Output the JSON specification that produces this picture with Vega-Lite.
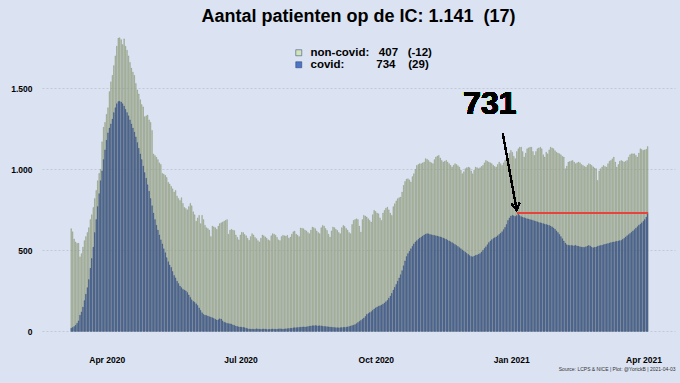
{
"$schema":"https://vega.github.io/schema/vega-lite/v6.json",
"width":633,"height":323,
"autosize":{"type":"none"},
"padding":{"left":42,"top":23,"right":5,"bottom":37},
"background":"#dbe3f2",
"config":{"view":{"stroke":null},"font":"Liberation Sans"},
"title":{"text":"Aantal patienten op de IC: 1.141\u00a0\u00a0(17)","font":"Liberation Sans","fontSize":18,"fontWeight":"bold","color":"black","anchor":"middle","offset":0,"dy":3},
"data":{"values":[
{"d":"2020-03-07","t":634,"c":20},{"d":"2020-03-08","t":615,"c":24},{"d":"2020-03-09","t":570,"c":30},{"d":"2020-03-10","t":552,"c":38},{"d":"2020-03-11","t":543,"c":50},{"d":"2020-03-12","t":545,"c":65},{"d":"2020-03-13","t":460,"c":100},{"d":"2020-03-14","t":480,"c":120},{"d":"2020-03-15","t":520,"c":150},{"d":"2020-03-16","t":560,"c":190},{"d":"2020-03-17","t":585,"c":230},{"d":"2020-03-18","t":610,"c":270},{"d":"2020-03-19","t":640,"c":320},{"d":"2020-03-20","t":690,"c":390},{"d":"2020-03-21","t":720,"c":450},{"d":"2020-03-22","t":765,"c":520},{"d":"2020-03-23","t":820,"c":610},{"d":"2020-03-24","t":870,"c":690},{"d":"2020-03-25","t":930,"c":770},{"d":"2020-03-26","t":975,"c":850},{"d":"2020-03-27","t":1000,"c":930},{"d":"2020-03-28","t":1170,"c":990},{"d":"2020-03-29","t":1260,"c":1060},{"d":"2020-03-30","t":1290,"c":1120},{"d":"2020-03-31","t":1340,"c":1180},
{"d":"2020-04-01","t":1380,"c":1225},{"d":"2020-04-02","t":1480,"c":1255},{"d":"2020-04-03","t":1540,"c":1280},{"d":"2020-04-04","t":1580,"c":1310},{"d":"2020-04-05","t":1640,"c":1350},{"d":"2020-04-06","t":1700,"c":1380},{"d":"2020-04-07","t":1760,"c":1405},{"d":"2020-04-08","t":1810,"c":1418},{"d":"2020-04-09","t":1812,"c":1420},{"d":"2020-04-10","t":1800,"c":1415},{"d":"2020-04-11","t":1770,"c":1405},{"d":"2020-04-12","t":1805,"c":1390},{"d":"2020-04-13","t":1760,"c":1370},{"d":"2020-04-14","t":1735,"c":1350},{"d":"2020-04-15","t":1700,"c":1330},{"d":"2020-04-16","t":1660,"c":1305},{"d":"2020-04-17","t":1625,"c":1280},{"d":"2020-04-18","t":1600,"c":1255},{"d":"2020-04-19","t":1580,"c":1230},{"d":"2020-04-20","t":1530,"c":1200},{"d":"2020-04-21","t":1490,"c":1165},{"d":"2020-04-22","t":1465,"c":1130},{"d":"2020-04-23","t":1430,"c":1095},{"d":"2020-04-24","t":1400,"c":1060},{"d":"2020-04-25","t":1385,"c":1020},{"d":"2020-04-26","t":1325,"c":980},{"d":"2020-04-27","t":1330,"c":945},{"d":"2020-04-28","t":1335,"c":905},{"d":"2020-04-29","t":1305,"c":865},{"d":"2020-04-30","t":1290,"c":820},
{"d":"2020-05-01","t":1240,"c":775},{"d":"2020-05-02","t":1095,"c":730},{"d":"2020-05-03","t":1085,"c":690},{"d":"2020-05-04","t":1075,"c":655},{"d":"2020-05-05","t":1060,"c":625},{"d":"2020-05-06","t":1040,"c":595},{"d":"2020-05-07","t":1030,"c":565},{"d":"2020-05-08","t":975,"c":540},{"d":"2020-05-09","t":970,"c":510},{"d":"2020-05-10","t":963,"c":485},{"d":"2020-05-11","t":950,"c":455},{"d":"2020-05-12","t":920,"c":430},{"d":"2020-05-13","t":910,"c":410},{"d":"2020-05-14","t":895,"c":395},{"d":"2020-05-15","t":880,"c":370},{"d":"2020-05-16","t":860,"c":345},{"d":"2020-05-17","t":870,"c":330},{"d":"2020-05-18","t":835,"c":310},{"d":"2020-05-19","t":820,"c":295},{"d":"2020-05-20","t":808,"c":280},{"d":"2020-05-21","t":825,"c":270},{"d":"2020-05-22","t":790,"c":260},{"d":"2020-05-23","t":765,"c":255},{"d":"2020-05-24","t":758,"c":250},{"d":"2020-05-25","t":750,"c":240},{"d":"2020-05-26","t":770,"c":225},{"d":"2020-05-27","t":790,"c":210},{"d":"2020-05-28","t":775,"c":195},{"d":"2020-05-29","t":738,"c":185},{"d":"2020-05-30","t":720,"c":180},{"d":"2020-05-31","t":680,"c":170},
{"d":"2020-06-01","t":700,"c":160},{"d":"2020-06-02","t":716,"c":145},{"d":"2020-06-03","t":665,"c":130},{"d":"2020-06-04","t":716,"c":115},{"d":"2020-06-05","t":690,"c":105},{"d":"2020-06-06","t":655,"c":100},{"d":"2020-06-07","t":640,"c":98},{"d":"2020-06-08","t":634,"c":95},{"d":"2020-06-09","t":625,"c":90},{"d":"2020-06-10","t":585,"c":88},{"d":"2020-06-11","t":650,"c":84},{"d":"2020-06-12","t":645,"c":80},{"d":"2020-06-13","t":640,"c":75},{"d":"2020-06-14","t":630,"c":70},{"d":"2020-06-15","t":650,"c":72},{"d":"2020-06-16","t":665,"c":78},{"d":"2020-06-17","t":670,"c":76},{"d":"2020-06-18","t":675,"c":65},{"d":"2020-06-19","t":680,"c":57},{"d":"2020-06-20","t":685,"c":54},{"d":"2020-06-21","t":690,"c":50},{"d":"2020-06-22","t":600,"c":48},{"d":"2020-06-23","t":625,"c":47},{"d":"2020-06-24","t":630,"c":45},{"d":"2020-06-25","t":625,"c":40},{"d":"2020-06-26","t":622,"c":37},{"d":"2020-06-27","t":595,"c":33},{"d":"2020-06-28","t":580,"c":30},{"d":"2020-06-29","t":565,"c":28},{"d":"2020-06-30","t":595,"c":27},
{"d":"2020-07-01","t":612,"c":26},{"d":"2020-07-02","t":610,"c":25},{"d":"2020-07-03","t":598,"c":23},{"d":"2020-07-04","t":590,"c":20},{"d":"2020-07-05","t":575,"c":17},{"d":"2020-07-06","t":562,"c":15},{"d":"2020-07-07","t":585,"c":14},{"d":"2020-07-08","t":603,"c":15},{"d":"2020-07-09","t":595,"c":13},{"d":"2020-07-10","t":580,"c":14},{"d":"2020-07-11","t":572,"c":16},{"d":"2020-07-12","t":560,"c":15},{"d":"2020-07-13","t":552,"c":14},{"d":"2020-07-14","t":575,"c":13},{"d":"2020-07-15","t":595,"c":14},{"d":"2020-07-16","t":590,"c":15},{"d":"2020-07-17","t":583,"c":14},{"d":"2020-07-18","t":575,"c":13},{"d":"2020-07-19","t":565,"c":12},{"d":"2020-07-20","t":560,"c":13},{"d":"2020-07-21","t":590,"c":14},{"d":"2020-07-22","t":603,"c":15},{"d":"2020-07-23","t":600,"c":14},{"d":"2020-07-24","t":593,"c":13},{"d":"2020-07-25","t":580,"c":14},{"d":"2020-07-26","t":565,"c":15},{"d":"2020-07-27","t":560,"c":16},{"d":"2020-07-28","t":585,"c":15},{"d":"2020-07-29","t":593,"c":14},{"d":"2020-07-30","t":590,"c":15},{"d":"2020-07-31","t":588,"c":16},
{"d":"2020-08-01","t":593,"c":17},{"d":"2020-08-02","t":575,"c":18},{"d":"2020-08-03","t":582,"c":19},{"d":"2020-08-04","t":600,"c":20},{"d":"2020-08-05","t":615,"c":22},{"d":"2020-08-06","t":619,"c":23},{"d":"2020-08-07","t":600,"c":23},{"d":"2020-08-08","t":593,"c":24},{"d":"2020-08-09","t":585,"c":25},{"d":"2020-08-10","t":638,"c":26},{"d":"2020-08-11","t":636,"c":27},{"d":"2020-08-12","t":634,"c":28},{"d":"2020-08-13","t":625,"c":27},{"d":"2020-08-14","t":620,"c":28},{"d":"2020-08-15","t":610,"c":30},{"d":"2020-08-16","t":603,"c":32},{"d":"2020-08-17","t":625,"c":33},{"d":"2020-08-18","t":644,"c":35},{"d":"2020-08-19","t":640,"c":35},{"d":"2020-08-20","t":634,"c":36},{"d":"2020-08-21","t":620,"c":35},{"d":"2020-08-22","t":610,"c":34},{"d":"2020-08-23","t":603,"c":35},{"d":"2020-08-24","t":640,"c":34},{"d":"2020-08-25","t":654,"c":32},{"d":"2020-08-26","t":650,"c":31},{"d":"2020-08-27","t":635,"c":30},{"d":"2020-08-28","t":623,"c":29},{"d":"2020-08-29","t":600,"c":28},{"d":"2020-08-30","t":582,"c":27},{"d":"2020-08-31","t":620,"c":26},
{"d":"2020-09-01","t":644,"c":25},{"d":"2020-09-02","t":640,"c":24},{"d":"2020-09-03","t":630,"c":23},{"d":"2020-09-04","t":623,"c":23},{"d":"2020-09-05","t":610,"c":22},{"d":"2020-09-06","t":603,"c":23},{"d":"2020-09-07","t":640,"c":24},{"d":"2020-09-08","t":654,"c":25},{"d":"2020-09-09","t":648,"c":25},{"d":"2020-09-10","t":635,"c":26},{"d":"2020-09-11","t":625,"c":28},{"d":"2020-09-12","t":610,"c":30},{"d":"2020-09-13","t":603,"c":33},{"d":"2020-09-14","t":660,"c":36},{"d":"2020-09-15","t":685,"c":38},{"d":"2020-09-16","t":690,"c":42},{"d":"2020-09-17","t":695,"c":48},{"d":"2020-09-18","t":690,"c":55},{"d":"2020-09-19","t":650,"c":62},{"d":"2020-09-20","t":613,"c":68},{"d":"2020-09-21","t":690,"c":75},{"d":"2020-09-22","t":716,"c":82},{"d":"2020-09-23","t":712,"c":92},{"d":"2020-09-24","t":706,"c":105},{"d":"2020-09-25","t":695,"c":110},{"d":"2020-09-26","t":685,"c":116},{"d":"2020-09-27","t":675,"c":122},{"d":"2020-09-28","t":720,"c":130},{"d":"2020-09-29","t":747,"c":138},{"d":"2020-09-30","t":740,"c":145},
{"d":"2020-10-01","t":730,"c":150},{"d":"2020-10-02","t":726,"c":155},{"d":"2020-10-03","t":700,"c":158},{"d":"2020-10-04","t":685,"c":163},{"d":"2020-10-05","t":730,"c":168},{"d":"2020-10-06","t":747,"c":175},{"d":"2020-10-07","t":760,"c":183},{"d":"2020-10-08","t":767,"c":192},{"d":"2020-10-09","t":750,"c":205},{"d":"2020-10-10","t":730,"c":218},{"d":"2020-10-11","t":716,"c":235},{"d":"2020-10-12","t":770,"c":255},{"d":"2020-10-13","t":788,"c":272},{"d":"2020-10-14","t":805,"c":290},{"d":"2020-10-15","t":819,"c":310},{"d":"2020-10-16","t":825,"c":330},{"d":"2020-10-17","t":829,"c":350},{"d":"2020-10-18","t":860,"c":375},{"d":"2020-10-19","t":901,"c":405},{"d":"2020-10-20","t":925,"c":435},{"d":"2020-10-21","t":940,"c":462},{"d":"2020-10-22","t":942,"c":480},{"d":"2020-10-23","t":935,"c":495},{"d":"2020-10-24","t":922,"c":510},{"d":"2020-10-25","t":955,"c":525},{"d":"2020-10-26","t":973,"c":540},{"d":"2020-10-27","t":1000,"c":552},{"d":"2020-10-28","t":1024,"c":560},{"d":"2020-10-29","t":1030,"c":568},{"d":"2020-10-30","t":1035,"c":576},{"d":"2020-10-31","t":1035,"c":582},
{"d":"2020-11-01","t":1040,"c":588},{"d":"2020-11-02","t":1045,"c":595},{"d":"2020-11-03","t":1066,"c":600},{"d":"2020-11-04","t":1062,"c":603},{"d":"2020-11-05","t":1055,"c":602},{"d":"2020-11-06","t":1045,"c":598},{"d":"2020-11-07","t":1040,"c":596},{"d":"2020-11-08","t":1035,"c":594},{"d":"2020-11-09","t":1060,"c":592},{"d":"2020-11-10","t":1076,"c":590},{"d":"2020-11-11","t":1082,"c":588},{"d":"2020-11-12","t":1086,"c":585},{"d":"2020-11-13","t":1070,"c":583},{"d":"2020-11-14","t":1055,"c":580},{"d":"2020-11-15","t":1045,"c":576},{"d":"2020-11-16","t":1050,"c":572},{"d":"2020-11-17","t":1055,"c":568},{"d":"2020-11-18","t":1045,"c":563},{"d":"2020-11-19","t":1035,"c":558},{"d":"2020-11-20","t":1025,"c":553},{"d":"2020-11-21","t":1014,"c":548},{"d":"2020-11-22","t":1025,"c":542},{"d":"2020-11-23","t":1035,"c":536},{"d":"2020-11-24","t":1030,"c":530},{"d":"2020-11-25","t":1022,"c":524},{"d":"2020-11-26","t":1014,"c":517},{"d":"2020-11-27","t":995,"c":510},{"d":"2020-11-28","t":973,"c":503},{"d":"2020-11-29","t":985,"c":496},{"d":"2020-11-30","t":1004,"c":489},
{"d":"2020-12-01","t":1010,"c":482},{"d":"2020-12-02","t":1014,"c":475},{"d":"2020-12-03","t":1010,"c":468},{"d":"2020-12-04","t":990,"c":462},{"d":"2020-12-05","t":973,"c":460},{"d":"2020-12-06","t":995,"c":465},{"d":"2020-12-07","t":1014,"c":469},{"d":"2020-12-08","t":1010,"c":472},{"d":"2020-12-09","t":1004,"c":476},{"d":"2020-12-10","t":1010,"c":480},{"d":"2020-12-11","t":1018,"c":490},{"d":"2020-12-12","t":1024,"c":500},{"d":"2020-12-13","t":1040,"c":512},{"d":"2020-12-14","t":1055,"c":522},{"d":"2020-12-15","t":1050,"c":535},{"d":"2020-12-16","t":1045,"c":548},{"d":"2020-12-17","t":1040,"c":558},{"d":"2020-12-18","t":1035,"c":566},{"d":"2020-12-19","t":1025,"c":573},{"d":"2020-12-20","t":1018,"c":578},{"d":"2020-12-21","t":1014,"c":583},{"d":"2020-12-22","t":1030,"c":590},{"d":"2020-12-23","t":1045,"c":598},{"d":"2020-12-24","t":1035,"c":606},{"d":"2020-12-25","t":1024,"c":615},{"d":"2020-12-26","t":1040,"c":628},{"d":"2020-12-27","t":1055,"c":642},{"d":"2020-12-28","t":1066,"c":660},{"d":"2020-12-29","t":1066,"c":685},{"d":"2020-12-30","t":1100,"c":700},{"d":"2020-12-31","t":1117,"c":712},
{"d":"2021-01-01","t":1105,"c":716},{"d":"2021-01-02","t":1080,"c":713},{"d":"2021-01-03","t":1066,"c":709},{"d":"2021-01-04","t":1110,"c":715},{"d":"2021-01-05","t":1127,"c":731},{"d":"2021-01-06","t":1137,"c":715},{"d":"2021-01-07","t":1137,"c":708},{"d":"2021-01-08","t":1110,"c":704},{"d":"2021-01-09","t":1076,"c":702},{"d":"2021-01-10","t":1100,"c":698},{"d":"2021-01-11","t":1127,"c":695},{"d":"2021-01-12","t":1132,"c":693},{"d":"2021-01-13","t":1137,"c":690},{"d":"2021-01-14","t":1137,"c":688},{"d":"2021-01-15","t":1110,"c":685},{"d":"2021-01-16","t":1086,"c":682},{"d":"2021-01-17","t":1110,"c":679},{"d":"2021-01-18","t":1127,"c":676},{"d":"2021-01-19","t":1132,"c":672},{"d":"2021-01-20","t":1137,"c":670},{"d":"2021-01-21","t":1127,"c":668},{"d":"2021-01-22","t":1090,"c":665},{"d":"2021-01-23","t":1076,"c":662},{"d":"2021-01-24","t":1106,"c":660},{"d":"2021-01-25","t":1096,"c":657},{"d":"2021-01-26","t":1120,"c":654},{"d":"2021-01-27","t":1137,"c":650},{"d":"2021-01-28","t":1132,"c":645},{"d":"2021-01-29","t":1127,"c":638},{"d":"2021-01-30","t":1115,"c":630},{"d":"2021-01-31","t":1106,"c":620},
{"d":"2021-02-01","t":1100,"c":610},{"d":"2021-02-02","t":1096,"c":598},{"d":"2021-02-03","t":1090,"c":585},{"d":"2021-02-04","t":1080,"c":572},{"d":"2021-02-05","t":1076,"c":558},{"d":"2021-02-06","t":1004,"c":545},{"d":"2021-02-07","t":1020,"c":535},{"d":"2021-02-08","t":1045,"c":532},{"d":"2021-02-09","t":1048,"c":530},{"d":"2021-02-10","t":1052,"c":531},{"d":"2021-02-11","t":1055,"c":529},{"d":"2021-02-12","t":1045,"c":528},{"d":"2021-02-13","t":1035,"c":532},{"d":"2021-02-14","t":1040,"c":527},{"d":"2021-02-15","t":1045,"c":525},{"d":"2021-02-16","t":1040,"c":522},{"d":"2021-02-17","t":1030,"c":520},{"d":"2021-02-18","t":1024,"c":520},{"d":"2021-02-19","t":1018,"c":518},{"d":"2021-02-20","t":1014,"c":522},{"d":"2021-02-21","t":1025,"c":527},{"d":"2021-02-22","t":1035,"c":530},{"d":"2021-02-23","t":1030,"c":526},{"d":"2021-02-24","t":1024,"c":520},{"d":"2021-02-25","t":1015,"c":516},{"d":"2021-02-26","t":1008,"c":519},{"d":"2021-02-27","t":1004,"c":521},{"d":"2021-02-28","t":932,"c":525},
{"d":"2021-03-01","t":990,"c":528},{"d":"2021-03-02","t":1004,"c":530},{"d":"2021-03-03","t":1015,"c":532},{"d":"2021-03-04","t":1024,"c":535},{"d":"2021-03-05","t":1018,"c":538},{"d":"2021-03-06","t":1014,"c":540},{"d":"2021-03-07","t":1035,"c":542},{"d":"2021-03-08","t":1050,"c":545},{"d":"2021-03-09","t":1055,"c":548},{"d":"2021-03-10","t":1065,"c":550},{"d":"2021-03-11","t":1076,"c":552},{"d":"2021-03-12","t":1045,"c":554},{"d":"2021-03-13","t":1014,"c":556},{"d":"2021-03-14","t":1030,"c":558},{"d":"2021-03-15","t":1050,"c":560},{"d":"2021-03-16","t":1055,"c":562},{"d":"2021-03-17","t":1050,"c":568},{"d":"2021-03-18","t":1045,"c":574},{"d":"2021-03-19","t":1050,"c":582},{"d":"2021-03-20","t":1055,"c":590},{"d":"2021-03-21","t":1075,"c":597},{"d":"2021-03-22","t":1090,"c":604},{"d":"2021-03-23","t":1096,"c":612},{"d":"2021-03-24","t":1096,"c":620},{"d":"2021-03-25","t":1096,"c":628},{"d":"2021-03-26","t":1086,"c":637},{"d":"2021-03-27","t":1076,"c":646},{"d":"2021-03-28","t":1100,"c":655},{"d":"2021-03-29","t":1127,"c":662},{"d":"2021-03-30","t":1122,"c":670},{"d":"2021-03-31","t":1117,"c":680},
{"d":"2021-04-01","t":1120,"c":690},{"d":"2021-04-02","t":1124,"c":705},{"d":"2021-04-03","t":1141,"c":734}
]},
"encoding":{
"x":{"field":"d","type":"temporal","timeUnit":"utcyearmonthdate",
"scale":{"type":"utc","domain":[{"year":2020,"month":2,"date":17,"utc":true},{"year":2021,"month":4,"date":22,"hours":10,"utc":true}]},
"axis":{"values":[{"year":2020,"month":4,"date":1,"utc":true},{"year":2020,"month":7,"date":1,"utc":true},{"year":2020,"month":10,"date":1,"utc":true},{"year":2021,"month":1,"date":1,"utc":true},{"year":2021,"month":4,"date":1,"utc":true}],
"format":"%b %Y","labelFont":"Liberation Sans","labelFontSize":8.5,"labelFontWeight":"bold","labelColor":"black","ticks":false,"domain":false,"grid":false,"labelPadding":9,"labelFlush":false,
"title":"Source: LCPS & NICE | Plot: @YorickB | 2021-04-03","titleFont":"Liberation Sans","titleFontSize":5,"titleFontWeight":"normal","titleColor":"#333333","titleAnchor":"end","titlePadding":3}}
},
"layer":[
{"mark":{"type":"bar","stroke":"#737d5f","strokeWidth":0.4},
"encoding":{
"y":{"field":"t","type":"quantitative","scale":{"domain":[-90,1903],"nice":false,"zero":false},
"axis":{"values":[0,500,1000,1500],"labelExpr":"replace(format(datum.value, ','), ',', '.')","title":null,"labelFont":"Liberation Sans","labelFontSize":8.5,"labelFontWeight":"bold","labelColor":"black","ticks":false,"domain":false,"labelPadding":10,"gridColor":"#b9c2d2","gridDash":[2,2],"gridWidth":0.8}},
"y2":{"datum":0},
"color":{"datum":"non-covid","type":"nominal","scale":{"domain":["non-covid","covid"],"range":["#d2e3b9","#4d75c4"]},
"legend":{"orient":"none","legendX":251,"legendY":24,"direction":"vertical","title":null,"symbolType":"square","symbolSize":36,"symbolStrokeColor":"#777777","symbolStrokeWidth":0.5,"labelFont":"Liberation Sans","labelFontSize":11.5,"labelFontWeight":"bold","labelColor":"black","labelOffset":6,"rowPadding":-1,"padding":0,
"labelExpr":"datum.label == 'covid' ? 'covid:\u00a0\u00a0\u00a0\u00a0\u00a0\u00a0\u00a0\u00a0\u00a0\u00a0734\u00a0\u00a0\u00a0\u00a0(29)' : 'non-covid:\u00a0\u00a0\u00a0407\u00a0\u00a0\u00a0(-12)'"}}
}},
{"mark":{"type":"bar","stroke":"#233a6e","strokeWidth":0.4},
"encoding":{
"y":{"field":"c","type":"quantitative"},
"y2":{"datum":0},
"color":{"datum":"covid","type":"nominal"}
}},
{"mark":{"type":"rule","color":"#e8433a","strokeWidth":2},
"encoding":{
"x":{"datum":{"year":2021,"month":1,"date":5,"utc":true},"type":"temporal"},
"x2":{"datum":{"year":2021,"month":4,"date":4,"utc":true}},
"y":{"datum":731,"type":"quantitative"}
}},
{"mark":{"type":"rule","color":"black","strokeWidth":1.3},
"encoding":{
"x":{"datum":{"year":2020,"month":12,"date":26,"hours":7,"utc":true},"type":"temporal"},
"x2":{"datum":{"year":2021,"month":1,"date":4,"hours":19,"utc":true}},
"y":{"datum":1222,"type":"quantitative"},
"y2":{"datum":749}
}},
{"mark":{"type":"point","shape":"M-0.6,-1L0,0L0.6,-1","filled":false,"color":"black","strokeWidth":1.3,"size":180,"angle":350,"opacity":1},
"encoding":{
"x":{"datum":{"year":2021,"month":1,"date":4,"hours":19,"utc":true},"type":"temporal"},
"y":{"datum":749,"type":"quantitative"}
}},
{"mark":{"type":"text","text":"731","font":"Liberation Sans","fontSize":32,"fontWeight":"bold","baseline":"middle","align":"center","color":"black"},
"encoding":{
"x":{"datum":{"year":2020,"month":12,"date":17,"hours":14,"utc":true},"type":"temporal"},
"y":{"datum":1405,"type":"quantitative"}
}}
]
}
